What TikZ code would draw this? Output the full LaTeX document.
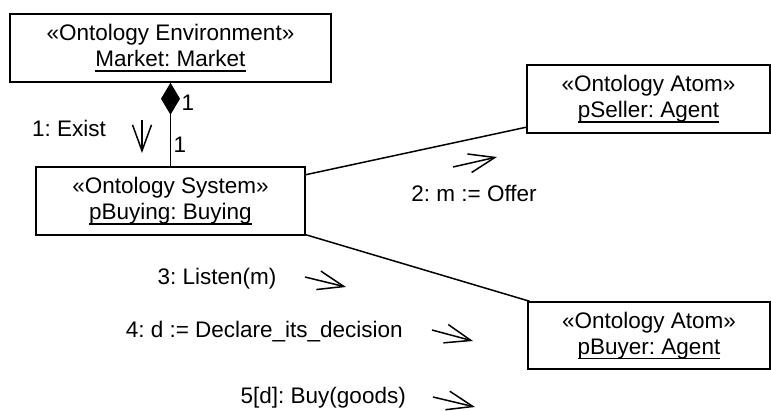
\documentclass[tikz,border=0pt]{standalone}
\usepackage{fontspec}
\setmainfont{Liberation Sans}
\usetikzlibrary{arrows.meta}
\frenchspacing
% underline set at a fixed depth, crossing the descenders
\newcommand\ulx[1]{\setbox0\hbox{#1}\leavevmode\rlap{\rule[-5pt]{\wd0}{1.5pt}}\box0}
\begin{document}
\begin{tikzpicture}[x=1pt,y=-1pt,
  every node/.style={font=\fontsize{22.5}{26}\selectfont\frenchspacing},
  obj/.style={draw,line width=1.5pt,rectangle,inner sep=0pt,minimum height=68pt,align=center},
  lbl/.style={inner sep=0pt},
  link/.style={line width=1.5pt},
  msg/.style={line width=1.5pt,-{Straight Barb[length=26pt,width=19pt,line width=1.5pt]}}]
\useasboundingbox (0,0) rectangle (771,411);

% objects
\node[obj,minimum width=321pt] (mk) at (170.5,48) {«Ontology Environment»\\\ulx{Market: Market}};
\node[obj,minimum width=269pt] (pb) at (170.5,201) {«Ontology System»\\\ulx{pBuying: Buying}};
\node[obj,minimum width=243pt] (ps) at (648.5,99) {«Ontology Atom»\\\ulx{pSeller: Agent}};
\node[obj,minimum width=242pt,minimum height=67pt] (pr) at (649,335.5) {«Ontology Atom»\\\ulx{pBuyer: Agent}};

% links
\draw[link,-{Diamond[length=32pt,width=19pt]}] (pb.north) -- (mk.south);
\draw[link] (pb.11.8) -- (ps.193);
\draw[link] (pb.346.5) -- (pr.164);

% multiplicities
\node[lbl] (mu1) at (188,103) {1};
\node[lbl] (mu2) at (180,145) {1};

% messages
\coordinate (a1s) at (142,120); \coordinate (a1e) at (142,153);
\coordinate (a2s) at (453,167); \coordinate (a2e) at (497,157);
\coordinate (a3s) at (305,277); \coordinate (a3e) at (346,287);
\coordinate (a4s) at (432,330); \coordinate (a4e) at (473,341);
\coordinate (a5s) at (433,397); \coordinate (a5e) at (475,407);
\draw[msg] (a1s) -- (a1e);
\draw[msg] (a2s) -- (a2e);
\draw[msg] (a3s) -- (a3e);
\draw[msg] (a4s) -- (a4e);
\draw[msg] (a5s) -- (a5e);

\node[lbl] (t1) at (69,128) {1: Exist};
\node[lbl] (t2) at (474,193) {2: m := Offer};
\node[lbl] (t3) at (217,279) {3: Listen(m)};
\node[lbl,anchor=east] (t4) at (403,332) {4: d := Declare\_its\_decision};
\node[lbl,anchor=east] (t5) at (406,398) {5[d]: Buy(goods)};
\end{tikzpicture}
\end{document}
